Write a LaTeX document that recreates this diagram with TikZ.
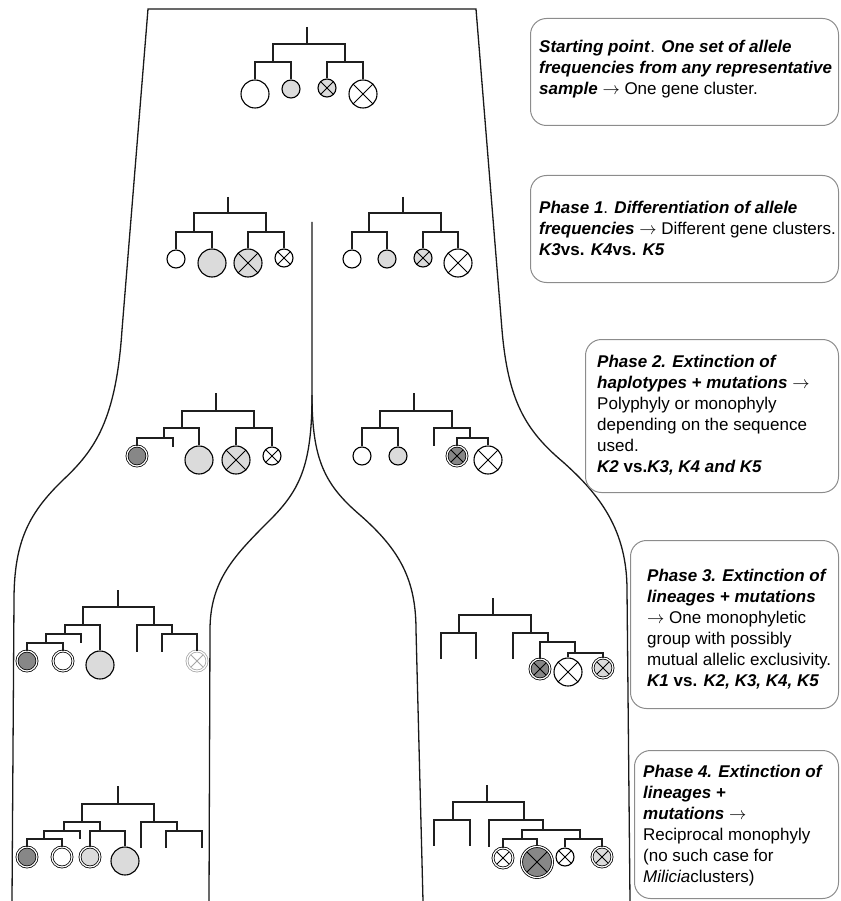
\documentclass[tikz,border=0pt]{standalone}
\usepackage{fontspec}
\setmainfont{Liberation Sans}
\usepackage{tikz}

\newcommand{\bfit}[1]{\textbf{\textit{#1}}}

\begin{document}
\begin{tikzpicture}
[
x=1pt, y=-1pt,
branch/.style={line width=2.1pt, draw=black!88},
rim/.style={line width=1.3pt, draw=black!90},
leaf/.style={circle, draw, line width=1.1pt, inner sep=0pt, fill=white},
r9/.style={minimum size=18pt},
r10/.style={minimum size=20pt},
r14/.style={minimum size=28pt},
r15/.style={minimum size=31pt},
lgray/.style={fill=black!14},
dgray/.style={fill=black!47},
dbl/.style={line width=0.8pt, double=white, double distance=1.2pt},
xed/.style={path picture={\draw[line width=1pt] (path picture bounding box.north west) -- (path picture bounding box.south east) (path picture bounding box.south west) -- (path picture bounding box.north east);}},
xedfaded/.style={draw=black!35, path picture={\draw[line width=1pt, black!35] (path picture bounding box.north west) -- (path picture bounding box.south east) (path picture bounding box.south west) -- (path picture bounding box.north east);}},
phasebox/.style={draw=black!45, line width=1pt, rounded corners=16pt, anchor=north west},
phasetext/.style={align=left, anchor=west, inner sep=0pt, font={\fontsize{17}{21}\selectfont}}
]
\useasboundingbox (0,0) rectangle (840,901);

% the lineage tube
\draw[rim] (12,901) -- (14,600) .. controls (14,540) and (30,512) .. (63,480)
  .. controls (95,450) and (116,420) .. (122,330) -- (148,9) -- (476,9) -- (502,330)
  .. controls (508,400) and (525,430) .. (563,462) .. controls (600,495) and (627,530) .. (627,590) -- (630,901);
\draw[rim] (312,222) -- (312,395) .. controls (312,465) and (300,490) .. (270,520)
  .. controls (235,555) and (210,580) .. (210,630) -- (209,901);
\draw[rim] (312,395) .. controls (312,460) and (325,485) .. (360,515)
  .. controls (400,550) and (416,580) .. (416,630) -- (423,901);

% starting point
\coordinate (s) at (307,27);
\coordinate (s0) at (307,44);
\coordinate (s1) at (273,62);
\coordinate (s2) at (345,62);
\node[leaf, r14] (s11) at (255,94) {};
\node[leaf, r9, lgray] (s12) at (291,89) {};
\node[leaf, r9, lgray, xed] (s21) at (327,88) {};
\node[leaf, r14, xed] (s22) at (363,94) {};
\draw[branch] (s) -- (s0) (s0) -| (s1) (s0) -| (s2) (s1) -| (s11) (s1) -| (s12) (s2) -| (s21) (s2) -| (s22);

% phase 1
\coordinate (a) at (228,197);
\coordinate (a0) at (228,213);
\coordinate (a1) at (194,232);
\coordinate (a2) at (266,232);
\node[leaf, r9] (a11) at (176,259) {};
\node[leaf, r14, lgray] (a12) at (212,263) {};
\node[leaf, r14, lgray, xed] (a21) at (248,263) {};
\node[leaf, r9, xed] (a22) at (284,258) {};
\draw[branch] (a) -- (a0) (a0) -| (a1) (a0) -| (a2) (a1) -| (a11) (a1) -| (a12) (a2) -| (a21) (a2) -| (a22);

\coordinate (b) at (403,197);
\coordinate (b0) at (403,213);
\coordinate (b1) at (369,232);
\coordinate (b2) at (441,232);
\node[leaf, r9] (b11) at (352,259) {};
\node[leaf, r9, lgray] (b12) at (387,259) {};
\node[leaf, r9, lgray, xed] (b21) at (423,258) {};
\node[leaf, r14, xed] (b22) at (458,263) {};
\draw[branch] (b) -- (b0) (b0) -| (b1) (b0) -| (b2) (b1) -| (b11) (b1) -| (b12) (b2) -| (b21) (b2) -| (b22);

% phase 2
\coordinate (c) at (216,393);
\coordinate (c0) at (216,411);
\coordinate (c1) at (182,428);
\coordinate (c2) at (254,428);
\coordinate (c11) at (164,438);
\coordinate (c112) at (173,447);
\node[leaf, r10, dgray, dbl] (c111) at (137,456) {};
\node[leaf, r14, lgray] (c12) at (199,460) {};
\node[leaf, r14, lgray, xed] (c21) at (236,460) {};
\node[leaf, r9, xed] (c22) at (272,456) {};
\draw[branch] (c) -- (c0) (c0) -| (c1) (c0) -| (c2) (c1) -| (c11) (c1) -| (c12)
  (c11) -| (c111) (c11) -| (c112) (c2) -| (c21) (c2) -| (c22);

\coordinate (d) at (414,393);
\coordinate (d0) at (414,411);
\coordinate (d1) at (380,428);
\coordinate (d2) at (452,428);
\coordinate (d21) at (434,446);
\coordinate (d22) at (470,438);
\node[leaf, r9] (d11) at (362,456) {};
\node[leaf, r9, lgray] (d12) at (398,456) {};
\node[leaf, r10, dgray, dbl, xed] (d221) at (457,456) {};
\node[leaf, r14, xed] (d222) at (488,460) {};
\draw[branch] (d) -- (d0) (d0) -| (d1) (d0) -| (d2) (d1) -| (d11) (d1) -| (d12)
  (d2) -| (d21) (d2) -| (d22) (d22) -| (d221) (d22) -| (d222);

% phase 3
\coordinate (e) at (118,590);
\coordinate (e0) at (118,607);
\coordinate (e1) at (83,625);
\coordinate (e2) at (154,625);
\coordinate (e11) at (65,634);
\coordinate (e111) at (46,643);
\coordinate (e112) at (81,643);
\coordinate (e21) at (137,652);
\coordinate (e22) at (172,634);
\coordinate (e221) at (162,652);
\node[leaf, r10, dgray, dbl] (e1111) at (27,661) {};
\node[leaf, r10, dbl] (e1112) at (63,661) {};
\node[leaf, r14, lgray] (e12) at (100,665) {};
\node[leaf, r10, dbl, xedfaded] (e222) at (197,661) {};
\draw[branch] (e) -- (e0) (e0) -| (e1) (e0) -| (e2) (e1) -| (e11) (e1) -| (e12)
  (e11) -| (e111) (e11) -| (e112) (e111) -| (e1111) (e111) -| (e1112)
  (e2) -| (e21) (e2) -| (e22) (e22) -| (e221) (e22) -| (e222);

\coordinate (f) at (493,598);
\coordinate (f0) at (493,615);
\coordinate (f1) at (459,633);
\coordinate (f2) at (531,633);
\coordinate (f11) at (441,659);
\coordinate (f12) at (476,659);
\coordinate (f21) at (513,659);
\coordinate (f22) at (548,642);
\coordinate (f222) at (575,653);
\node[leaf, r10, dgray, dbl, xed] (f221) at (540,669) {};
\node[leaf, r14, xed] (f2221) at (568,672) {};
\node[leaf, r10, lgray, dbl, xed] (f2222) at (603,668) {};
\draw[branch] (f) -- (f0) (f0) -| (f1) (f0) -| (f2) (f1) -| (f11) (f1) -| (f12)
  (f2) -| (f21) (f2) -| (f22) (f22) -| (f221) (f22) -| (f222) (f222) -| (f2221) (f222) -| (f2222);

% phase 4
\coordinate (g) at (118,786);
\coordinate (g0) at (118,804);
\coordinate (g1) at (82,822);
\coordinate (g2) at (154,822);
\coordinate (g11) at (64,831);
\coordinate (g111) at (44,839);
\coordinate (g112) at (80,839);
\coordinate (g12) at (100,831);
\coordinate (g21) at (141,848);
\coordinate (g22) at (177,831);
\coordinate (g221) at (166,848);
\coordinate (g222) at (202,848);
\node[leaf, r10, dgray, dbl] (g1111) at (27,857) {};
\node[leaf, r10, dbl] (g1112) at (62,857) {};
\node[leaf, r10, lgray, dbl] (g121) at (90,857) {};
\node[leaf, r14, lgray] (g122) at (125,861) {};
\draw[branch] (g) -- (g0) (g0) -| (g1) (g0) -| (g2) (g1) -| (g11) (g1) -| (g12)
  (g11) -| (g111) (g11) -| (g112) (g111) -| (g1111) (g111) -| (g1112)
  (g12) -| (g121) (g12) -| (g122) (g2) -| (g21) (g2) -| (g22) (g22) -| (g221) (g22) -| (g222);

\coordinate (h) at (487,785);
\coordinate (h0) at (487,802);
\coordinate (h1) at (453,820);
\coordinate (h2) at (524,820);
\coordinate (h11) at (434,846);
\coordinate (h12) at (470,846);
\coordinate (h21) at (489,847);
\coordinate (h22) at (543,830);
\coordinate (h221) at (522,839);
\coordinate (h222) at (580,839);
\node[leaf, r10, dbl, xed] (h2211) at (503,858) {};
\node[leaf, r15, dgray, dbl, xed] (h2212) at (537,862) {};
\node[leaf, r9, xed] (h2221) at (565,857) {};
\node[leaf, r10, lgray, dbl, xed] (h2222) at (602,857) {};
\draw[branch] (h) -- (h0) (h0) -| (h1) (h0) -| (h2) (h1) -| (h11) (h1) -| (h12)
  (h2) -| (h21) (h2) -| (h22) (h22) -| (h221) (h22) -| (h222)
  (h221) -| (h2211) (h221) -| (h2212) (h222) -| (h2221) (h222) -| (h2222);

% phase boxes
\node[phasebox, minimum width=308pt, minimum height=107pt] (box0) at (530,18) {};
\node[phasebox, minimum width=308pt, minimum height=107pt] (box1) at (530,175) {};
\node[phasebox, minimum width=253pt, minimum height=153pt] (box2) at (585,339) {};
\node[phasebox, minimum width=208pt, minimum height=168pt] (box3) at (630,540) {};
\node[phasebox, minimum width=204pt, minimum height=148pt] (box4) at (634,750) {};

\node[phasetext] (txt0) at (539,69) {\bfit{Starting point}. \bfit{One set of allele}\\
  \bfit{frequencies from any representative}\\
  \bfit{sample} $\rightarrow$ One gene cluster.};
\node[phasetext] (txt1) at (539,228) {\bfit{Phase 1}. \bfit{Differentiation of allele}\\
  \bfit{frequencies} $\rightarrow$ Different gene clusters.\\
  \bfit{K3}\textbf{vs.} \bfit{K4}\textbf{vs.} \bfit{K5}};
\node[phasetext] (txt2) at (597,415) {\bfit{Phase 2. Extinction of}\\
  \bfit{haplotypes + mutations} $\rightarrow$\\
  Polyphyly or monophyly\\
  depending on the sequence\\
  used.\\
  \bfit{K2} \textbf{vs.}\bfit{K3, K4 and K5}};
\node[phasetext] (txt3) at (647,629) {\bfit{Phase 3. Extinction of}\\
  \bfit{lineages + mutations}\\
  $\rightarrow$ One monophyletic\\
  group with possibly\\
  mutual allelic exclusivity.\\
  \bfit{K1} \textbf{vs.} \bfit{K2, K3, K4, K5}};
\node[phasetext] (txt4) at (643,826) {\bfit{Phase 4. Extinction of}\\
  \bfit{lineages +}\\
  \bfit{mutations} $\rightarrow$\\
  Reciprocal monophyly\\
  (no such case for\\
  \textit{Milicia}clusters)};
\end{tikzpicture}
\end{document}
